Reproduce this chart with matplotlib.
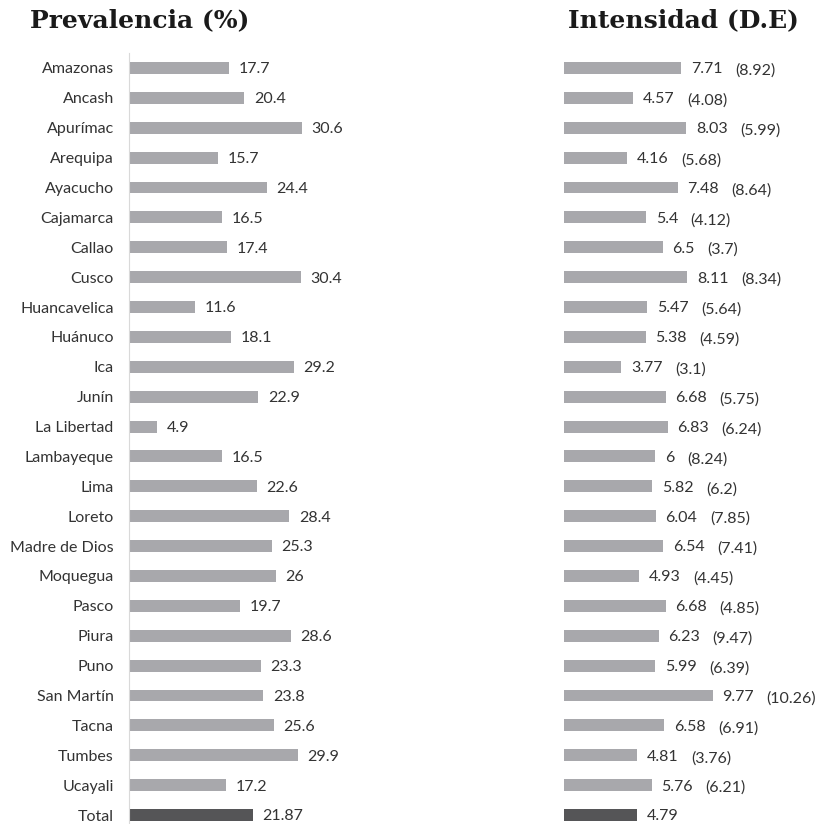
import matplotlib
matplotlib.use("Agg")
import matplotlib.pyplot as plt

regiones = ["Amazonas", "Ancash", "Apurímac", "Arequipa", "Ayacucho", "Cajamarca",
            "Callao", "Cusco", "Huancavelica", "Huánuco", "Ica", "Junín", "La Libertad",
            "Lambayeque", "Lima", "Loreto", "Madre de Dios", "Moquegua", "Pasco", "Piura",
            "Puno", "San Martín", "Tacna", "Tumbes", "Ucayali", "Total"]
prevalencia = [17.7, 20.4, 30.6, 15.7, 24.4, 16.5, 17.4, 30.4, 11.6, 18.1, 29.2, 22.9, 4.9,
               16.5, 22.6, 28.4, 25.3, 26, 19.7, 28.6, 23.3, 23.8, 25.6, 29.9, 17.2, 21.87]
prev_labels = ["17.7", "20.4", "30.6", "15.7", "24.4", "16.5", "17.4", "30.4", "11.6", "18.1",
               "29.2", "22.9", "4.9", "16.5", "22.6", "28.4", "25.3", "26", "19.7", "28.6",
               "23.3", "23.8", "25.6", "29.9", "17.2", "21.87"]
intensidad = [7.71, 4.57, 8.03, 4.16, 7.48, 5.4, 6.5, 8.11, 5.47, 5.38, 3.77, 6.68, 6.83,
              6, 5.82, 6.04, 6.54, 4.93, 6.68, 6.23, 5.99, 9.77, 6.58, 4.81, 5.76, 4.79]
int_labels = ["7.71", "4.57", "8.03", "4.16", "7.48", "5.4", "6.5", "8.11", "5.47", "5.38",
              "3.77", "6.68", "6.83", "6", "5.82", "6.04", "6.54", "4.93", "6.68", "6.23",
              "5.99", "9.77", "6.58", "4.81", "5.76", "4.79"]
desv_est = ["8.92", "4.08", "5.99", "5.68", "8.64", "4.12", "3.7", "8.34", "5.64", "4.59",
            "3.1", "5.75", "6.24", "8.24", "6.2", "7.85", "7.41", "4.45", "4.85", "9.47",
            "6.39", "10.26", "6.91", "3.76", "6.21", ""]

plt.rcParams['font.family'] = ['Lato', 'DejaVu Sans']
gris = "#a8a8ac"
oscuro = "#555557"
txt = "#333333"
colores = [gris] * (len(regiones) - 1) + [oscuro]
y = list(range(len(regiones)))

fig = plt.figure(figsize=(8.17, 8.24), dpi=100)
ax1 = fig.add_axes([129 / 817, -6 / 824, 226 / 817, 777 / 824])
ax2 = fig.add_axes([564 / 817, -6 / 824, 228 / 817, 777 / 824])

ax1.barh(y, prevalencia, height=0.4, color=colores)
ax1.set_xlim(0, 40)
ax1.set_ylim(len(regiones) - 0.5, -0.5)
ax1.set_yticks(y)
ax1.set_yticklabels(regiones, fontsize=11.5, color=txt)
ax1.tick_params(axis='y', length=0, pad=11)
ax1.set_xticks([])
for s in ["top", "right", "bottom"]:
    ax1.spines[s].set_visible(False)
ax1.spines["left"].set_color("#d9d9d9")
for yi, v, lab in zip(y, prevalencia, prev_labels):
    ax1.annotate(lab, xy=(v, yi), xytext=(7, -1), textcoords="offset points",
                 va="center", ha="left", fontsize=11.5, color=txt)

ax2.barh(y, intensidad, height=0.4, color=colores)
ax2.set_xlim(0, 15)
ax2.set_ylim(len(regiones) - 0.5, -0.5)
ax2.set_xticks([])
ax2.set_yticks([])
for s in ax2.spines.values():
    s.set_visible(False)
for yi, v, lab, sd in zip(y, intensidad, int_labels, desv_est):
    t = ax2.annotate(lab, xy=(v, yi), xytext=(7, -1), textcoords="offset points",
                     va="center", ha="left", fontsize=11.5, color=txt)
    if sd:
        ax2.annotate("(" + sd + ")", xy=(1, 0.5), xycoords=t, xytext=(9, -1),
                     textcoords="offset points", va="center", ha="left",
                     fontsize=11.5, color=txt)

fig.text(140 / 817, 1 - 20 / 824, "Prevalencia (%)", ha="center", va="center",
         fontsize=18, fontweight="bold", family="DejaVu Serif", color="#1a1a1a")
fig.text(683 / 817, 1 - 20 / 824, "Intensidad (D.E)", ha="center", va="center",
         fontsize=18, fontweight="bold", family="DejaVu Serif", color="#1a1a1a")

fig.savefig("out.png", dpi=100)
